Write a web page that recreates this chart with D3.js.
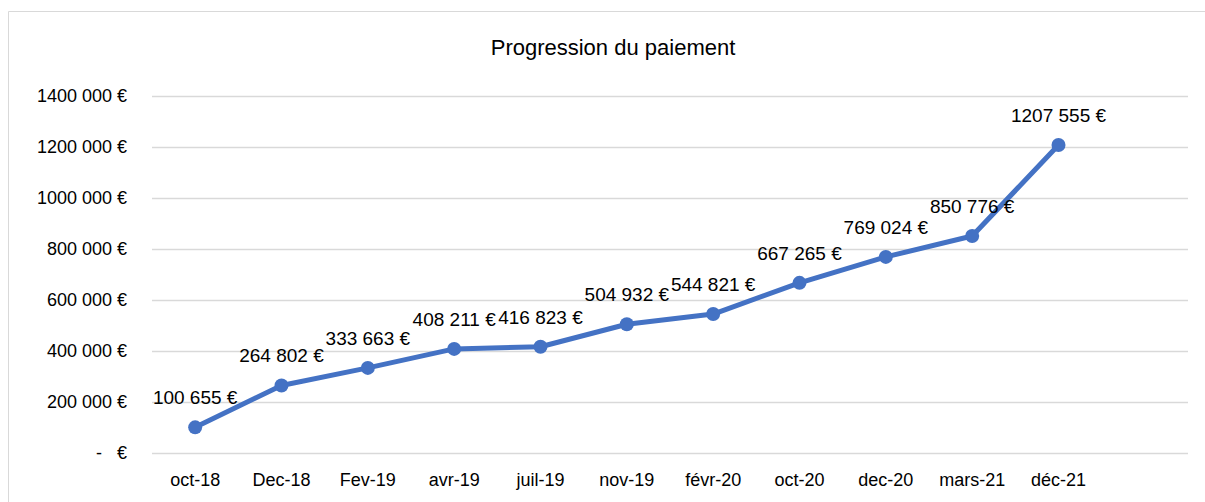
<!DOCTYPE html>
<html>
<head>
<meta charset="utf-8">
<script src="https://cdn.jsdelivr.net/npm/d3@7"></script>
<style>
  html, body { margin: 0; background: #fff; overflow: hidden; }
  svg { display: block; }
  text { font-family: "Liberation Sans", "DejaVu Sans", sans-serif; fill: #000; }
</style>
</head>
<body>
<div class="chart"></div>
<script>
// categories (the last slot is empty in the source sheet)
var categories = ["oct-18", "Dec-18", "Fev-19", "avr-19", "juil-19", "nov-19", "févr-20", "oct-20", "dec-20", "mars-21", "déc-21", ""];
var paiements = [100655, 264802, 333663, 408211, 416823, 504932, 544821, 667265, 769024, 850776, 1207555];
var yTicks = [0, 200000, 400000, 600000, 800000, 1000000, 1200000, 1400000];
var titre = "Progression du paiement";

var w = 1205, h = 502;
var plotLeft = 152, plotRight = 1188, plotTop = 96, plotBottom = 453;

var svg = d3.select(".chart").append("svg")
  .attr("width", w)
  .attr("height", h);

// cadre (seuls les bords haut et gauche sont visibles)
svg.append("path")
  .attr("d", "M8.5," + h + "V11.5H" + w)
  .attr("fill", "none")
  .attr("stroke", "#d9d9d9")
  .attr("stroke-width", 1);

var x = d3.scaleBand().domain(categories).range([plotLeft, plotRight]);
var y = d3.scaleLinear().domain([0, 1400000]).range([plotBottom, plotTop]);

// format comptable : "-   €" pour zéro, sinon un seul séparateur avant les 3 derniers chiffres
function euro(v) {
  if (v == 0) return "-   €";
  var k = Math.floor(v / 1000);
  var r = v % 1000;
  return (k > 0 ? k + " " + d3.format("03d")(r) : String(r)) + " €";
}

// grille
svg.selectAll("line.grid")
  .data(yTicks)
  .enter()
  .append("line")
  .attr("class", "grid")
  .attr("x1", plotLeft).attr("x2", plotRight)
  .attr("y1", function(d) { return Math.round(y(d)) + 0.5; })
  .attr("y2", function(d) { return Math.round(y(d)) + 0.5; })
  .attr("stroke", "#d9d9d9")
  .attr("stroke-width", 1.3);

// axe Y
var yAxis = svg.append("g")
  .attr("transform", "translate(" + (plotLeft - 25) + ",0)")
  .call(d3.axisLeft(y).tickValues(yTicks).tickSize(0).tickPadding(0).tickFormat(euro));
yAxis.select(".domain").remove();
yAxis.selectAll("text")
  .style("font-size", "18px")
  .style("white-space", "pre")
  .attr("font-family", null);

// axe X
var xAxis = svg.append("g")
  .attr("transform", "translate(0," + plotBottom + ")")
  .call(d3.axisBottom(x).tickSize(0).tickPadding(20));
xAxis.select(".domain").remove();
xAxis.selectAll("text")
  .style("font-size", "18px")
  .attr("font-family", null);

// titre
svg.append("text")
  .attr("x", 613).attr("y", 55)
  .attr("text-anchor", "middle")
  .style("font-size", "22px")
  .text(titre);

var pts = paiements.map(function(v, i) { return { cat: categories[i], val: v }; });
var cx = function(d) { return x(d.cat) + x.bandwidth() / 2; };

// ligne
svg.append("path")
  .datum(pts)
  .attr("fill", "none")
  .attr("stroke", "#4472C4")
  .attr("stroke-width", 5)
  .attr("stroke-linejoin", "round")
  .attr("d", d3.line().x(cx).y(function(d) { return y(d.val); }));

// marqueurs
svg.selectAll("circle.pt")
  .data(pts)
  .enter()
  .append("circle")
  .attr("class", "pt")
  .attr("cx", cx)
  .attr("cy", function(d) { return y(d.val); })
  .attr("r", 7)
  .attr("fill", "#4472C4");

// étiquettes
svg.selectAll("text.lbl")
  .data(pts)
  .enter()
  .append("text")
  .attr("class", "lbl")
  .attr("x", cx)
  .attr("y", function(d) { return y(d.val) - 23; })
  .attr("text-anchor", "middle")
  .style("font-size", "19px")
  .text(function(d) { return euro(d.val); });
</script>
</body>
</html>
